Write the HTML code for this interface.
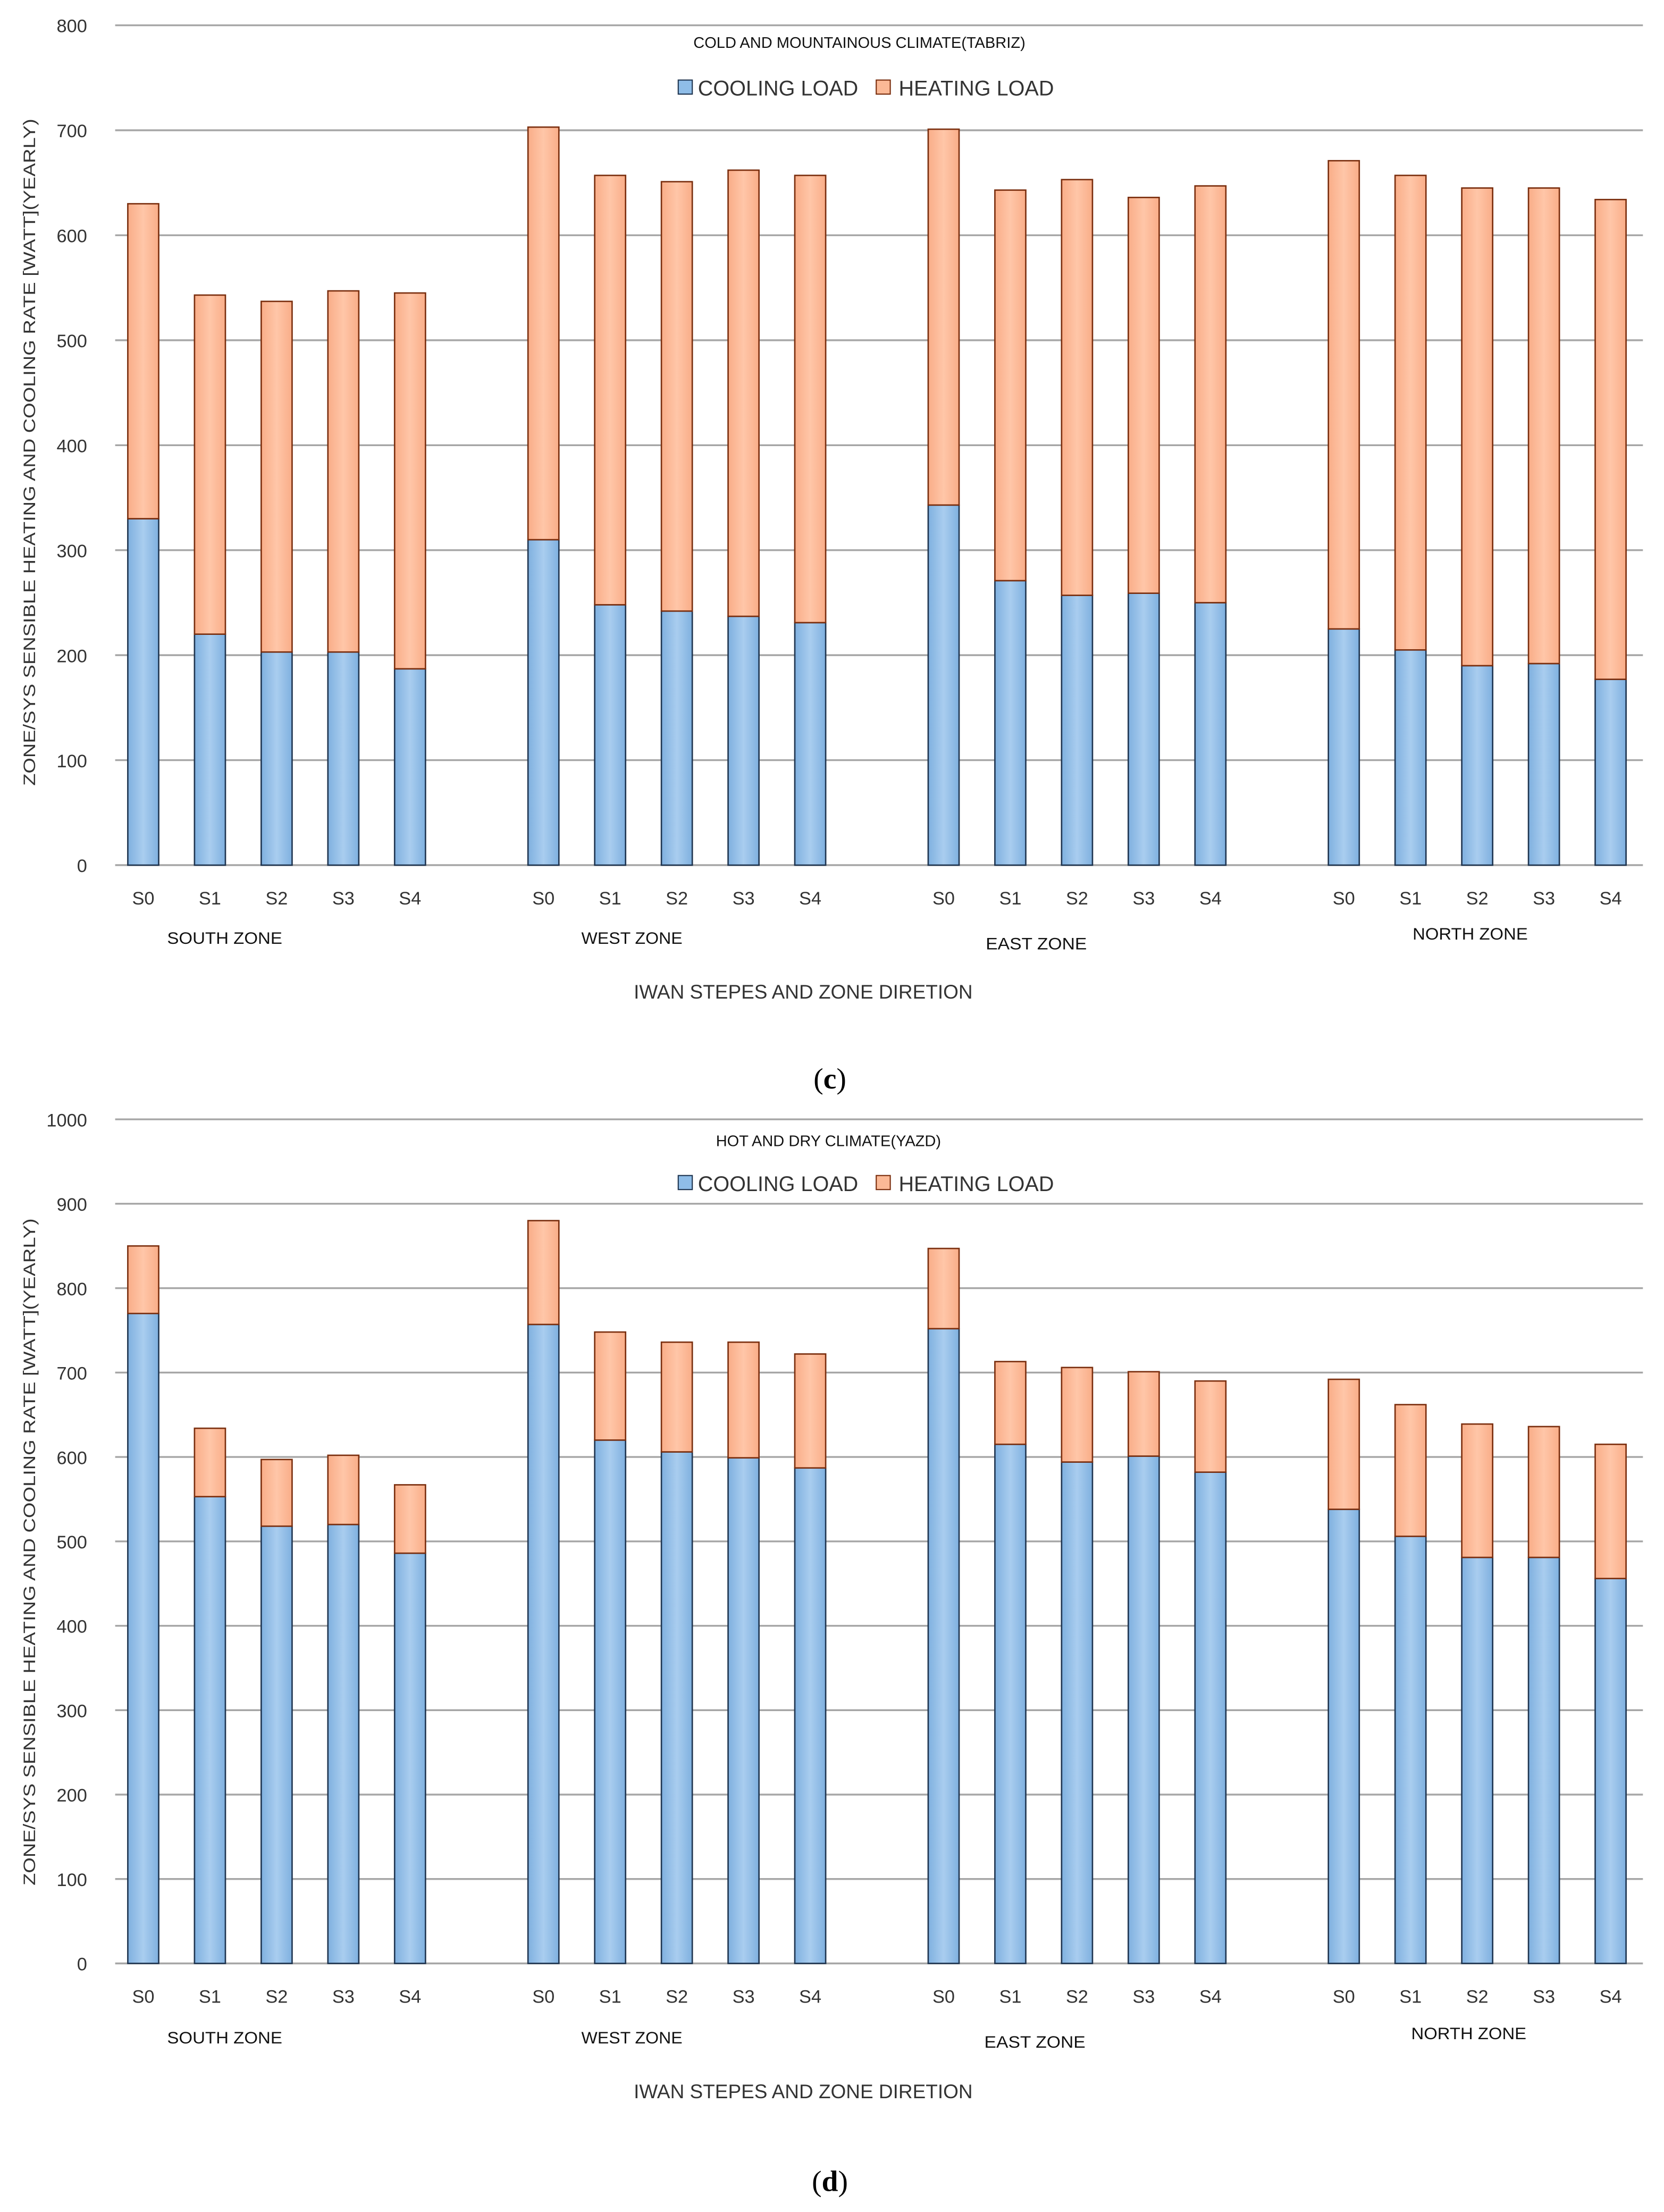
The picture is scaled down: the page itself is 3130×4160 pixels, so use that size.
<!DOCTYPE html>
<html><head><meta charset="utf-8"><style>
html,body{margin:0;padding:0;background:#fff;}
svg{display:block;font-family:"Liberation Sans",sans-serif;}
</style></head><body>
<svg id="fig" width="3130" height="4160" viewBox="0 0 1185 1575" xmlns="http://www.w3.org/2000/svg">
<defs>
<linearGradient id="gb" x1="0" x2="1"><stop offset="0" stop-color="#7fb0df"/><stop offset="0.5" stop-color="#a9cdef"/><stop offset="1" stop-color="#7fb0df"/></linearGradient>
<linearGradient id="go" x1="0" x2="1"><stop offset="0" stop-color="#f9ad88"/><stop offset="0.5" stop-color="#ffc6a8"/><stop offset="1" stop-color="#f9ad88"/></linearGradient>
</defs>
<g id="chartC"></g>
<g id="chartD"></g>
</svg>
<script>
const zones = ["SOUTH ZONE","WEST ZONE","EAST ZONE","NORTH ZONE"];
const steps = ["S0","S1","S2","S3","S4"];
const coolC = [330,220,203,203,187, 310,248,242,237,231, 343,271,257,259,250, 225,205,190,192,177];
const totalC = [630,543,537,547,545, 703,657,651,662,657, 701,643,653,636,647, 671,657,645,645,634];
const ticksC = [0,100,200,300,400,500,600,700,800];
const coolD = [770,553,518,520,486, 757,620,606,599,587, 752,615,594,601,582, 538,506,481,481,456];
const totalD = [850,634,597,602,567, 880,748,736,736,722, 847,713,706,701,690, 692,662,639,636,615];
const ticksD = [0,100,200,300,400,500,600,700,800,900,1000];

const NS="http://www.w3.org/2000/svg";
function mk(parent,tag,attrs,text){const e=document.createElementNS(NS,tag);for(const k in attrs)e.setAttribute(k,attrs[k]);if(text!==undefined)e.textContent=text;parent.appendChild(e);return e;}

function draw(g,cfg){
  const y0=cfg.y0, yTop=cfg.yTop, max=cfg.ticks[cfg.ticks.length-1];
  const y=v=>y0-(v/max)*(y0-yTop);
  const x=i=>102+(Math.floor(i/5)*6+i%5)*47.5;
  cfg.ticks.forEach(t=>{
    const l=mk(g,'line',{x1:82,x2:1170,y1:y(t),y2:y(t),stroke:'#a6a6a6','stroke-width':1.3});
    
    
    const tx=mk(g,'text',{x:62,y:y(t)+5,'text-anchor':'end','font-size':13,fill:'#333'},t);
    
    
  });
  cfg.cool.forEach((c,i)=>{
    const cx=x(i), w=22, tot=cfg.total[i];
    const b=mk(g,'rect',{x:cx-w/2,y:y(c),width:w,height:y0-y(c),fill:'url(#gb)',stroke:'#1f3550','stroke-width':1});
    
    
    const h=mk(g,'rect',{x:cx-w/2,y:y(tot),width:w,height:y(c)-y(tot),fill:'url(#go)',stroke:'#7a2e0e','stroke-width':1});
    
    
    const s=mk(g,'text',{x:cx,y:cfg.sy,'text-anchor':'middle','font-size':13,fill:'#333'},steps[i%5]);
    
    
  });
  zones.forEach((z,k)=>{
    const t=mk(g,'text',{x:cfg.zx[k],y:cfg.zy[k],'text-anchor':'middle','font-size':12,fill:'#111','textLength':z==='NORTH ZONE'?82:(z==='SOUTH ZONE'?82:72),'lengthAdjust':'spacingAndGlyphs'},z);
    
    
  });
  let t=mk(g,'text',{x:cfg.tx,y:cfg.ty,'text-anchor':'middle','font-size':11,fill:'#111'},cfg.title);
  
  
  const ly=cfg.ly;
  let r=mk(g,'rect',{x:483,y:ly-6,width:10,height:10,fill:'#8fbde8',stroke:'#1f3550','stroke-width':0.8});
  
  
  t=mk(g,'text',{x:497,y:ly+5,'font-size':15,fill:'#333'},'COOLING LOAD');
  
  
  r=mk(g,'rect',{x:624,y:ly-6,width:10,height:10,fill:'#fbb996',stroke:'#7a2e0e','stroke-width':0.8});
  
  
  t=mk(g,'text',{x:640,y:ly+5,'font-size':15,fill:'#333'},'HEATING LOAD');
  
  
  t=mk(g,'text',{x:572,y:cfg.xty,'text-anchor':'middle','font-size':14,fill:'#333'},'IWAN STEPES AND ZONE DIRETION');
  
  
  t=mk(g,'text',{x:0,y:0,'text-anchor':'middle','font-size':12,fill:'#333','textLength':475,'lengthAdjust':'spacingAndGlyphs',transform:'translate(25,'+cfg.yty+') rotate(-90)'},'ZONE/SYS SENSIBLE HEATING AND COOLING RATE [WATT](YEARLY)');
  
  
  t=mk(g,'text',{x:591,y:cfg.cy,'text-anchor':'middle','font-size':21,fill:'#000','font-family':'Liberation Serif, serif'},'');
  
  
  mk(t,'tspan',{},'(');mk(t,'tspan',{'font-weight':'bold'},cfg.letter);mk(t,'tspan',{},')');
}
draw(document.getElementById('chartC'),{y0:616,yTop:18,ticks:ticksC,cool:coolC,total:totalC,sy:644,zx:[160,450,738,1047],zy:[672,672,676,669],title:'COLD AND MOUNTAINOUS CLIMATE(TABRIZ)',tx:612,ty:34,ly:63,xty:711,yty:322,cy:775,letter:'c'});
draw(document.getElementById('chartD'),{y0:1398,yTop:797,ticks:ticksD,cool:coolD,total:totalD,sy:1426,zx:[160,450,737,1046],zy:[1455,1455,1458,1452],title:'HOT AND DRY CLIMATE(YAZD)',tx:590,ty:816,ly:843,xty:1494,yty:1105,cy:1560,letter:'d'});
</script>
</body></html>
